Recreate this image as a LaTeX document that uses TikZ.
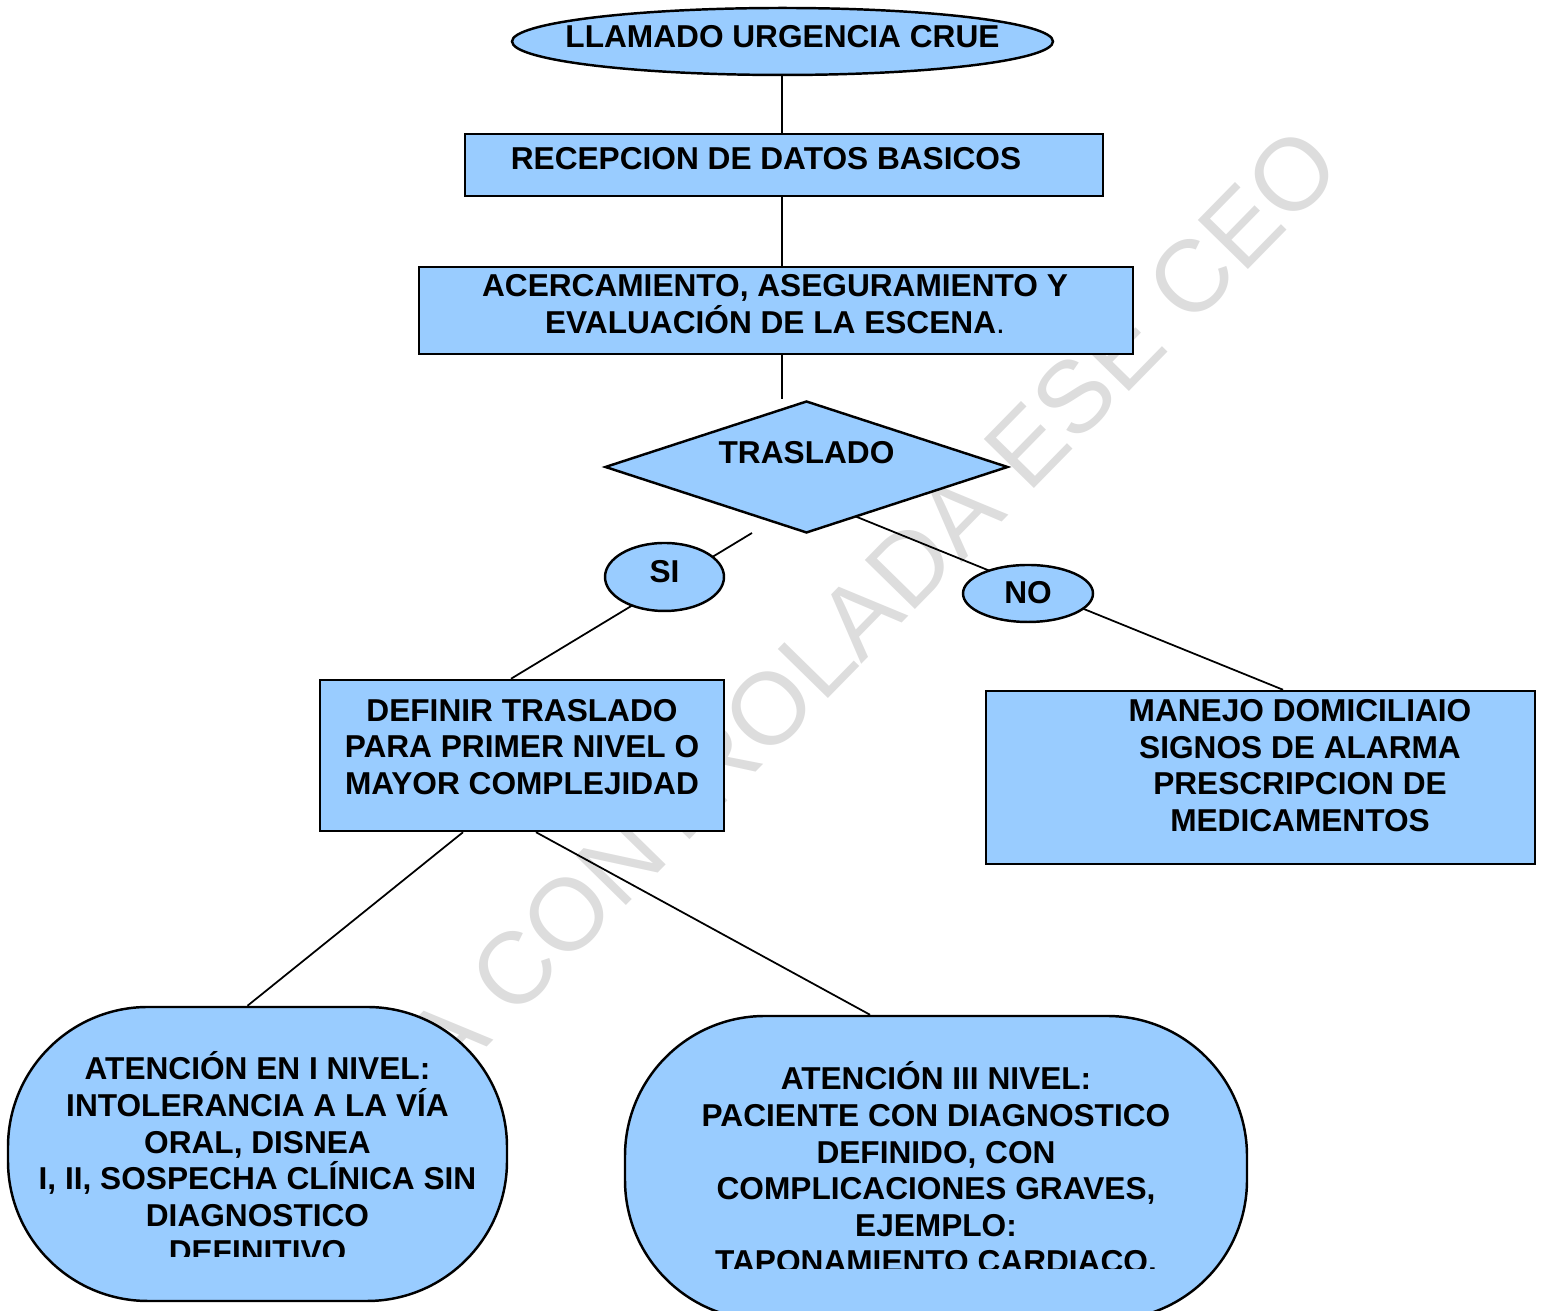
\documentclass[tikz,border=0pt]{standalone}
\usepackage{fontspec}
\setmainfont{Liberation Sans}
\usetikzlibrary{calc,shapes.geometric,backgrounds}
\definecolor{boxblue}{RGB}{153,204,255}
\definecolor{wmgray}{RGB}{221,221,221}
\tikzset{
  flowbox/.style={draw,line width=0.7pt,fill=boxblue,inner sep=0pt},
  rectbox/.style={flowbox,rectangle},
  ovalbox/.style={flowbox,ellipse},
  roundbox/.style={flowbox,rectangle,rounded corners=1.4cm},
  decision/.style={flowbox,diamond},
  boxtext/.style={font=\fontsize{9}{10.4}\selectfont\bfseries,align=center,inner sep=0pt},
  link/.style={line width=0.5pt}
}

\begin{document}
\begin{tikzpicture}
\useasboundingbox (0,0) rectangle (15.44,13.11);
\node[ovalbox,minimum width=5.41cm,minimum height=0.67cm] (crue) at (7.825,12.695) {};
\node[rectbox,minimum width=6.38cm,minimum height=0.62cm] (rec) at (7.84,11.46) {};
\node[rectbox,minimum width=7.14cm,minimum height=0.87cm] (acer) at (7.76,10.005) {};
\node[decision,minimum width=4.03cm,minimum height=1.32cm] (trs) at (8.065,8.44) {};
\node[ovalbox,minimum width=1.19cm,minimum height=0.68cm] (si) at (6.645,7.34) {};
\node[ovalbox,minimum width=1.30cm,minimum height=0.57cm] (no) at (10.28,7.175) {};
\node[rectbox,minimum width=4.04cm,minimum height=1.51cm] (def) at (5.22,5.555) {};
\node[rectbox,minimum width=5.49cm,minimum height=1.73cm] (man) at (12.605,5.335) {};
\node[roundbox,minimum width=4.99cm,minimum height=2.94cm] (lv1) at (2.575,1.57) {};
\node[roundbox,minimum width=6.22cm,minimum height=3.04cm] (lv3) at (9.36,1.43) {};

\begin{scope}[on background layer]
\node[rotate=45.6,anchor=base east,inner sep=0pt,text=wmgray,font=\fontsize{29}{29}\selectfont] (wmark) at (13.46,11.41) {COPIA CONTROLADA ESE CEO};
\coordinate (trs-in) at (7.82,9.12);
\coordinate (si-a) at (7.52,7.78);
\coordinate (no-a) at (8.52,7.96);
\draw[link] (crue.south -| trs-in) -- (rec.north -| trs-in);
\draw[link] (rec.south -| trs-in) -- (acer.north -| trs-in);
\draw[link] (acer.south -| trs-in) -- (trs-in);
\draw[link] (si-a) -- ([xshift=-1.1mm]def.north);
\draw[link] (no-a) -- ([xshift=2.25mm]man.north);
\draw[link] ([xshift=-5.9mm]def.south) -- ([xshift=-1mm]lv1.north);
\draw[link] ([xshift=1.4mm]def.south) -- ([xshift=-6.6mm]lv3.north);
\end{scope}

\node[boxtext] (crue-t) at ($(crue)+(0,0.045)$) {LLAMADO URGENCIA CRUE};
\node[boxtext] (rec-t) at ($(rec)+(-0.18,0.06)$) {RECEPCION DE DATOS BASICOS};
\node[boxtext] (acer-t) at ($(acer)+(-0.01,0.065)$) {ACERCAMIENTO, ASEGURAMIENTO Y\\EVALUACIÓN DE LA ESCENA{\mdseries .}};
\node[boxtext] (trs-t) at ($(trs)+(0,0.14)$) {TRASLADO};
\node[boxtext] (si-t) at ($(si)+(0,0.05)$) {SI};
\node[boxtext] (no-t) at ($(no)+(0,0.01)$) {NO};
\node[boxtext] (def-t) at ($(def)+(0,0.085)$) {DEFINIR TRASLADO\\PARA PRIMER NIVEL O\\MAYOR COMPLEJIDAD};
\node[boxtext] (man-t) at ($(man)+(0.395,0.12)$) {MANEJO DOMICILIAIO\\SIGNOS DE ALARMA\\PRESCRIPCION DE\\MEDICAMENTOS};
\begin{scope}
\clip (0,0.54) rectangle (15.44,13.11);
\node[boxtext] (lv1-t) at ($(lv1)+(0,-0.035)$) {ATENCIÓN EN I NIVEL:\\INTOLERANCIA A LA VÍA\\ORAL, DISNEA\\I, II, SOSPECHA CLÍNICA SIN\\DIAGNOSTICO\\DEFINITIVO};
\end{scope}
\begin{scope}
\clip (0,0.42) rectangle (15.44,13.11);
\node[boxtext] (lv3-t) at ($(lv3)+(0,0.005)$) {ATENCIÓN III NIVEL:\\PACIENTE CON DIAGNOSTICO\\DEFINIDO, CON\\COMPLICACIONES GRAVES,\\EJEMPLO:\\TAPONAMIENTO CARDIACO.};
\end{scope}
\end{tikzpicture}
\end{document}
